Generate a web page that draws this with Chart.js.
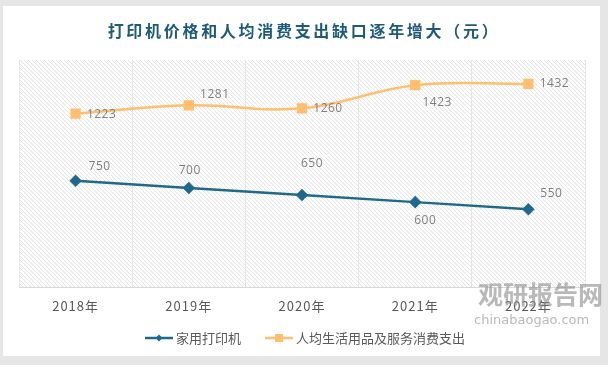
<!DOCTYPE html>
<html>
<head>
<meta charset="utf-8">
<script src="https://cdn.jsdelivr.net/npm/chart.js@4.4.0/dist/chart.umd.min.js"></script>
<style>
  html, body { margin: 0; padding: 0; background: #e6e6e6; }
  #card { position: absolute; left: 3px; top: 6px; width: 597px; height: 350px; background: #fff; }
  #wrap { position: absolute; left: 0; top: 0; width: 608px; height: 365px; }
</style>
</head>
<body>
<div id="card"></div>
<div id="wrap"><canvas id="grafico" width="608" height="365"></canvas></div>
<script>
// datos del gráfico
const years = ["2018年", "2019年", "2020年", "2021年", "2022年"];
const printerPrice = [750, 700, 650, 600, 550];
const consumeSpend = [1223, 1281, 1260, 1423, 1432];
const seriesNames = ["家用打印机", "人均生活用品及服务消费支出"];
const titleText = "打印机价格和人均消费支出缺口逐年增大（元）";

// desplazamiento de cada etiqueta respecto a su punto (px)
const labelOffsets = [
    [[24, -14], [1, -17], [10, -31], [10, 18], [23, -16]],
    [[26, 1], [26, -11], [26, 0], [22, 17], [26, 0]]
];

const blue = "#1f6a8c";
const orange = "#ffbf6f";

// patrón rayado para el área del gráfico
function makeHatch() {
    const p = document.createElement("canvas");
    p.width = 4; p.height = 4;
    const c = p.getContext("2d");
    c.fillStyle = "#ffffff";
    c.fillRect(0, 0, 4, 4);
    c.strokeStyle = "#e4e4e4";
    c.lineWidth = 1;
    c.beginPath();
    c.moveTo(-1, -1); c.lineTo(5, 5);
    c.moveTo(-1, 3); c.lineTo(1, 5);
    c.moveTo(3, -1); c.lineTo(5, 1);
    c.stroke();
    return c.createPattern(p, "repeat");
}

const decor = {
    id: "decor",
    beforeDraw(chart) {
        const { ctx, chartArea: a } = chart;
        ctx.save();
        ctx.fillStyle = makeHatch();
        ctx.fillRect(a.left, a.top, a.right - a.left, a.bottom - a.top);
        ctx.restore();
        // espaciado para las etiquetas del eje
        ctx.letterSpacing = "1px";
    },
    afterDraw(chart) {
        const ctx = chart.ctx;
        ctx.save();
        // título
        ctx.fillStyle = "#1d5b78";
        ctx.font = "bold 16px 'Noto Sans CJK SC'";
        ctx.letterSpacing = "2.7px";
        ctx.textAlign = "center";
        ctx.textBaseline = "middle";
        ctx.fillText(titleText, 304, 31);

        // etiquetas de datos
        ctx.letterSpacing = "0.5px";
        ctx.font = "12px 'Open Sans', 'Noto Sans', sans-serif";
        ctx.fillStyle = "#7f7f7f";
        chart.data.datasets.forEach(function(ds, i) {
            chart.getDatasetMeta(i).data.forEach(function(pt, j) {
                const off = labelOffsets[i][j];
                ctx.fillText(ds.data[j], pt.x + off[0], pt.y + off[1]);
            });
        });

        // marca de agua
        ctx.letterSpacing = "0px";
        ctx.globalAlpha = 0.6;
        ctx.fillStyle = "#8a8a8a";
        ctx.font = "bold 25px 'Noto Sans CJK SC'";
        ctx.textAlign = "left";
        ctx.fillText("观研报告网", 478, 294);
        ctx.font = "13px 'DejaVu Sans'";
        ctx.fillText("chinabaogao.com", 474, 321);
        ctx.globalAlpha = 1;

        // leyenda
        ctx.font = "13px 'Noto Sans CJK SC'";
        ctx.textAlign = "left";
        let x = 145;
        const y = 338;
        chart.data.datasets.forEach(function(ds, i) {
            ctx.strokeStyle = ds.borderColor;
            ctx.lineWidth = 2.5;
            ctx.beginPath();
            ctx.moveTo(x, y); ctx.lineTo(x + 28, y);
            ctx.stroke();
            ctx.fillStyle = ds.borderColor;
            if (i === 0) {
                ctx.beginPath();
                ctx.moveTo(x + 14, y - 3.5); ctx.lineTo(x + 17.5, y);
                ctx.lineTo(x + 14, y + 3.5); ctx.lineTo(x + 10.5, y);
                ctx.closePath(); ctx.fill();
            } else {
                ctx.fillRect(x + 10, y - 4, 8, 8);
            }
            ctx.fillStyle = "#595959";
            ctx.fillText(ds.label, x + 31, y);
            x += 31 + ctx.measureText(ds.label).width + 24;
        });
        ctx.restore();
    }
};

const ctx = document.getElementById("grafico").getContext("2d");

new Chart(ctx, {
    type: "line",
    data: {
        labels: years,
        datasets: [{
            label: seriesNames[0],
            data: printerPrice,
            borderColor: blue,
            backgroundColor: blue,
            borderWidth: 2.5,
            pointStyle: "rectRot",
            pointRadius: 4.5,
            pointHoverRadius: 4.5,
            tension: 0
        }, {
            label: seriesNames[1],
            data: consumeSpend,
            borderColor: orange,
            backgroundColor: orange,
            borderWidth: 2.5,
            pointStyle: "rect",
            pointRadius: 5.5,
            pointHoverRadius: 5.5,
            tension: 0.4
        }]
    },
    options: {
        responsive: false,
        animation: false,
        layout: { padding: { left: 19, right: 23, top: 60, bottom: 40 } },
        plugins: {
            legend: { display: false },
            tooltip: { enabled: false }
        },
        scales: {
            x: {
                offset: true,
                grid: { offset: true, color: "#e6e6e6", drawTicks: false },
                border: { color: "#d9d9d9" },
                ticks: {
                    color: "#595959",
                    padding: 11,
                    font: { size: 13, family: "'Noto Sans CJK SC'" }
                }
            },
            y: {
                display: false,
                min: 0,
                max: 1600
            }
        }
    },
    plugins: [decor]
});
</script>
</body>
</html>
